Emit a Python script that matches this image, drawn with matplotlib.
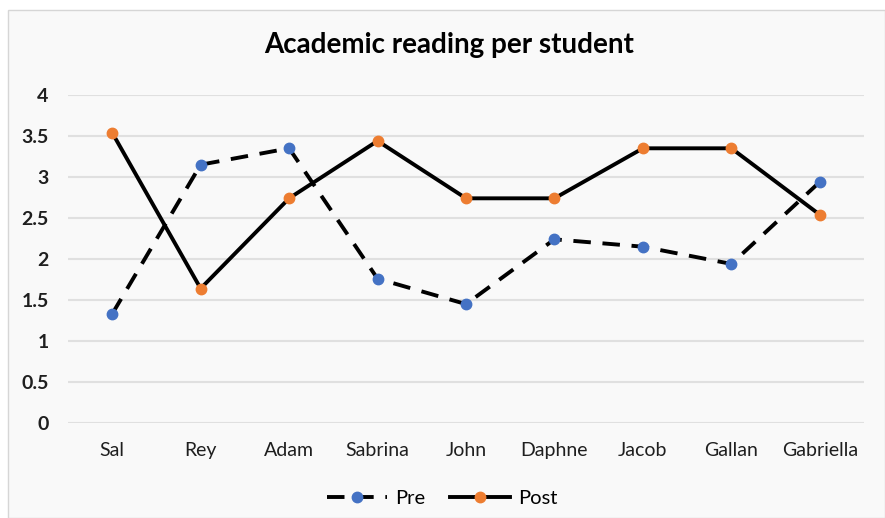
import matplotlib.pyplot as plt
from matplotlib.patches import Rectangle

students = ["Sal", "Rey", "Adam", "Sabrina", "John", "Daphne", "Jacob", "Gallan", "Gabriella"]
pre = [1.33, 3.15, 3.35, 1.76, 1.45, 2.24, 2.15, 1.94, 2.94]
post = [3.54, 1.64, 2.74, 3.44, 2.74, 2.74, 3.35, 3.35, 2.54]
y_ticks = [0, 0.5, 1, 1.5, 2, 2.5, 3, 3.5, 4]
y_labels = ["0", "0.5", "1", "1.5", "2", "2.5", "3", "3.5", "4"]

plt.rcParams["font.family"] = ["Lato", "DejaVu Sans"]

fig = plt.figure(figsize=(8.85, 5.18), dpi=100, facecolor="white")
fig.patches.append(Rectangle((8 / 885, 0), 1 - 8 / 885, 1 - 10 / 518, transform=fig.transFigure,
                             facecolor="#f9f9f9", edgecolor="#d6d6d6", linewidth=1, zorder=-1))
ax = fig.add_axes([0.0768, 0.1834, 0.8995, 0.6332])
ax.set_facecolor("none")

x = range(len(students))
ax.plot(x, pre, color="black", linewidth=2.8, dashes=(4.5, 3), marker="o", markersize=7.5,
        markerfacecolor="#4472C4", markeredgecolor="#4472C4", label="Pre")
ax.plot(x, post, color="black", linewidth=2.8, marker="o", markersize=7.5,
        markerfacecolor="#ED7D31", markeredgecolor="#ED7D31", label="Post")

ax.set_xlim(-0.5, len(students) - 0.5)
ax.set_ylim(0, 4)
ax.set_yticks(y_ticks)
ax.set_yticklabels(y_labels)
ax.set_xticks(list(x))
ax.set_xticklabels(students)
ax.grid(axis="y", color="#e0e0e0", linewidth=1.5)
ax.set_axisbelow(True)
for s in ax.spines.values():
    s.set_visible(False)
ax.tick_params(length=0, labelsize=14, colors="#1f1f1f")
ax.tick_params(axis="y", pad=14)
ax.tick_params(axis="x", pad=14)
for lbl in ax.get_yticklabels():
    lbl.set_fontweight("bold")

fig.text(0.508, 0.913, "Academic reading per student", ha="center", va="center",
         fontsize=20, fontweight="bold", color="black")
ax.legend(loc="center", bbox_to_anchor=(0.47, -0.23), ncol=2, frameon=False,
          fontsize=14.5, handlelength=3.0, columnspacing=1.2, handletextpad=0.4)

fig.savefig("out.png", dpi=100, facecolor=fig.get_facecolor())
